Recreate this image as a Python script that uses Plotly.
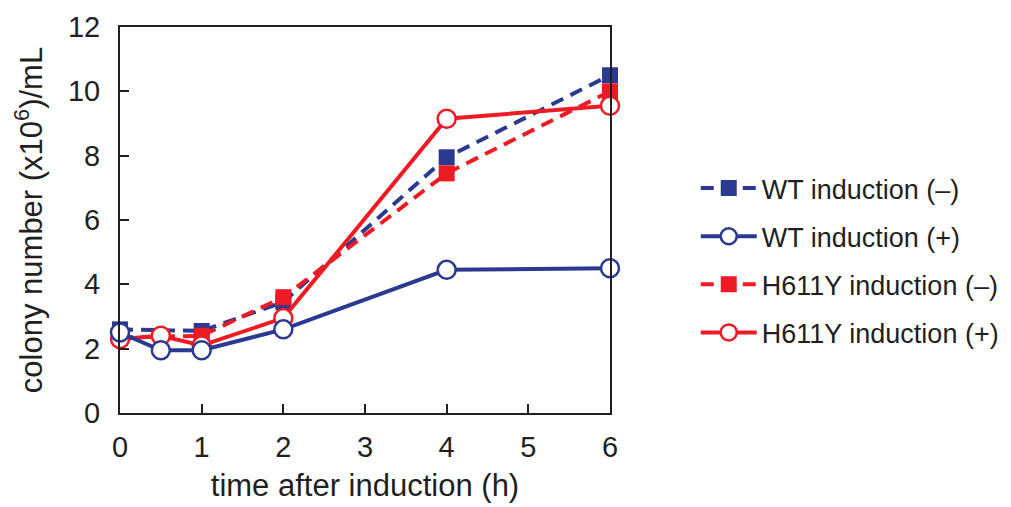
import plotly.graph_objects as go

# Sampling times (h)
time_all = [0, 0.5, 1, 2, 4, 6]
time_uninduced = [0, 1, 2, 4, 6]

# Colony numbers (x10^6 / mL)
wt_minus = [2.6, 2.55, 3.45, 7.95, 10.5]
wt_plus = [2.5, 1.95, 1.95, 2.6, 4.45, 4.5]
h611y_minus = [2.35, 2.4, 3.6, 7.45, 10.0]
h611y_plus = [2.3, 2.4, 2.1, 2.95, 9.15, 9.55]

x_ticks = [0, 1, 2, 3, 4, 5, 6]
y_ticks = [0, 2, 4, 6, 8, 10, 12]

BLUE = "#2B3990"
RED = "#ED1C24"
INK = "#231F20"
FONT = "Liberation Sans, Arial, sans-serif"

fig = go.Figure()


def add_series(name, x, y, color, filled, rank):
    dashed = filled
    fig.add_trace(go.Scatter(
        x=x, y=y, name=name, mode="lines+markers",
        legendrank=rank, legendgroup=name, cliponaxis=False,
        line=dict(color=color, width=4, dash="13px,8px" if dashed else "solid"),
        marker=dict(
            symbol="square" if filled else "circle",
            size=16 if filled else 18,
            color=color if filled else "white",
            line=dict(color=color, width=0 if filled else 2.5),
        ),
    ))


# drawing order: dashed series below, open circles on top
add_series("WT induction (–)", time_uninduced, wt_minus, BLUE, True, 1)
add_series("H611Y induction (–)", time_uninduced, h611y_minus, RED, True, 3)
add_series("H611Y induction (+)", time_all, h611y_plus, RED, False, 4)
add_series("WT induction (+)", time_all, wt_plus, BLUE, False, 2)

axis_common = dict(
    showline=True, linecolor=INK, linewidth=2, mirror=True,
    ticks="inside", ticklen=9, tickwidth=2, tickcolor=INK,
    showgrid=False, zeroline=False,
    tickfont=dict(family=FONT, size=29, color=INK),
    title_font=dict(family=FONT, size=31, color=INK),
)

fig.update_xaxes(
    range=[0, 6], tickvals=x_ticks, ticktext=[str(v) for v in x_ticks],
    title_text="time after induction (h)", title_standoff=13,
    ticklabelstandoff=7, **axis_common,
)
fig.update_yaxes(
    range=[0, 12], tickvals=y_ticks, ticktext=[str(v) for v in y_ticks],
    title_text="colony number (x10<sup>6</sup>)/mL", title_standoff=16,
    ticklabelstandoff=12, **axis_common,
)

fig.update_layout(
    width=1011, height=507,
    margin=dict(l=120, r=401, t=27, b=94, autoexpand=False),
    paper_bgcolor="white", plot_bgcolor="white",
    font=dict(family=FONT, color=INK),
    showlegend=True,
    legend=dict(
        x=1.175, y=0.645, xanchor="left", yanchor="top",
        font=dict(family=FONT, size=27, color=INK),
        traceorder="grouped", tracegroupgap=10, itemwidth=56,
        bgcolor="rgba(0,0,0,0)",
    ),
)

fig.write_html("out.html")
